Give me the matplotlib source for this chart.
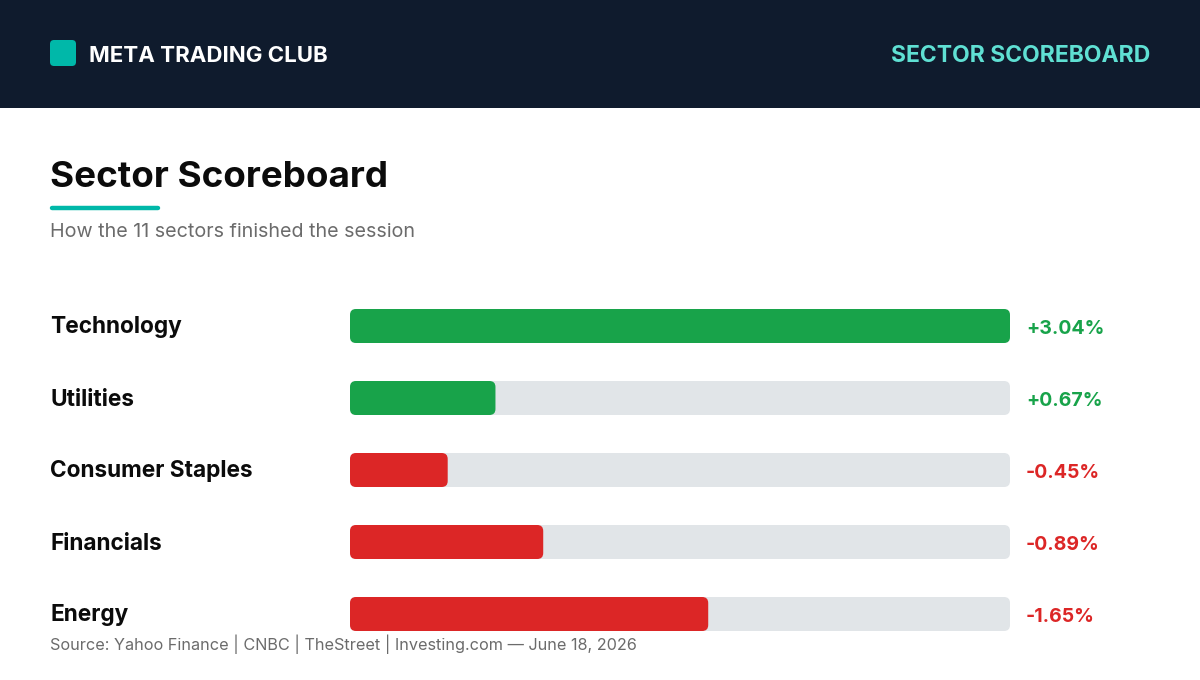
import matplotlib
matplotlib.use("Agg")
import matplotlib.pyplot as plt
from matplotlib.patches import FancyBboxPatch, Rectangle

# data
sectors = ["Technology", "Utilities", "Consumer Staples", "Financials", "Energy"]
changes = [3.04, 0.67, -0.45, -0.89, -1.65]
value_labels = ["+3.04%", "+0.67%", "-0.45%", "-0.89%", "-1.65%"]

brand = "META TRADING CLUB"
header_right = "SECTOR SCOREBOARD"
title = "Sector Scoreboard"
subtitle = "How the 11 sectors finished the session"
source = "Source: Yahoo Finance | CNBC | TheStreet | Investing.com \u2014 June 18, 2026"

NAVY = "#0f1b2d"
TEAL = "#00b8a9"
TEAL_LIGHT = "#5fe0d3"
GREEN = "#18a34a"
RED = "#dc2626"
TRACK = "#e1e5e8"
INK = "#0b0b0b"
GRAY = "#6b6b6b"

plt.rcParams["font.family"] = ["Inter", "DejaVu Sans"]

W, H = 1200, 680
fig = plt.figure(figsize=(W / 100, H / 100), dpi=100)
fig.patch.set_facecolor("white")

# background axes in pixel coordinates
bg = fig.add_axes([0, 0, 1, 1])
bg.set_xlim(0, W)
bg.set_ylim(H, 0)
bg.axis("off")

bg.add_patch(Rectangle((0, 0), W, 108, color=NAVY, lw=0))
bg.add_patch(FancyBboxPatch((50, 40), 26, 26, boxstyle="round,pad=0,rounding_size=4",
                            fc=TEAL, ec="none"))
bg.text(89, 62, brand, color="white", fontsize=16, fontweight="bold", va="baseline", ha="left")
bg.text(1150, 62, header_right, color=TEAL_LIGHT, fontsize=16.5, fontweight="bold",
        va="baseline", ha="right")

bg.text(50, 187, title, color=INK, fontsize=26.5, fontweight="bold", va="baseline", ha="left")
bg.plot([52, 158], [207.5, 207.5], color=TEAL, lw=3.2, solid_capstyle="round")
bg.text(50, 237, subtitle, color=GRAY, fontsize=14.2, va="baseline", ha="left")

for i, (name, v, lab) in enumerate(zip(sectors, changes, value_labels)):
    y = 326 + i * 72 + 7.5
    bg.text(50, y, name, color=INK, fontsize=16.3, fontweight="bold", va="baseline", ha="left")
    bg.text(1026, y, lab, color=GREEN if v >= 0 else RED, fontsize=14, fontweight="bold",
            va="baseline", ha="left")

bg.text(50, 650, source, color=GRAY, fontsize=11.7, va="baseline", ha="left")

# bar axes: x 350..1010 px, y 290..650 px
x0, x1, y0, y1 = 350, 1010, 290, 650
ax = fig.add_axes([x0 / W, 1 - y1 / H, (x1 - x0) / W, (y1 - y0) / H])
vmax = max(abs(v) for v in changes)
ax.set_xlim(0, vmax)
ax.set_ylim(len(sectors) - 0.5, -0.5)
ax.axis("off")

px_per_x = (x1 - x0) / vmax
px_per_y = (y1 - y0) / len(sectors)
aspect = px_per_x / px_per_y
r = 6 / px_per_x
bh = 34 / px_per_y

for i, v in enumerate(changes):
    ax.add_patch(FancyBboxPatch((0, i - bh / 2), vmax, bh,
                                boxstyle=f"round,pad=0,rounding_size={r}",
                                mutation_aspect=aspect, fc=TRACK, ec="none"))
    ax.add_patch(FancyBboxPatch((0, i - bh / 2), abs(v), bh,
                                boxstyle=f"round,pad=0,rounding_size={r}",
                                mutation_aspect=aspect,
                                fc=GREEN if v >= 0 else RED, ec="none"))

fig.savefig("out.png", dpi=100)
